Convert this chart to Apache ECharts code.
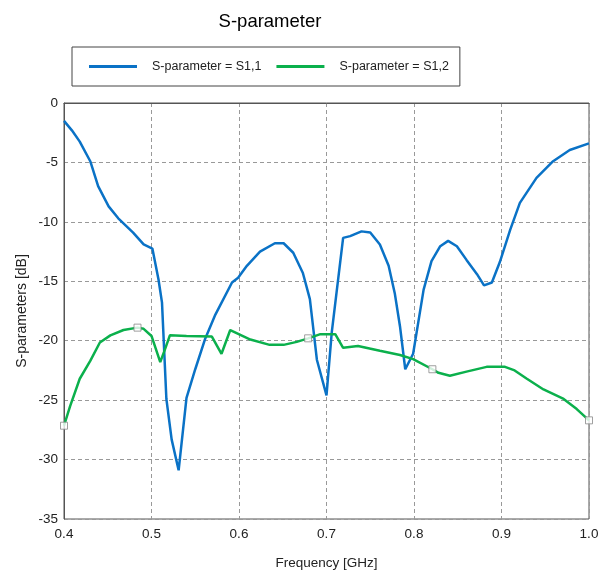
<!DOCTYPE html>
<html><head><meta charset="utf-8">
<script src="https://cdn.jsdelivr.net/npm/echarts@6/dist/echarts.min.js"></script>
<style>html,body{margin:0;padding:0;background:#fff}#c{width:610px;height:575px}</style>
</head><body><div id="c"></div>
<script>
const s11Freq = [0.400,0.409,0.418,0.430,0.439,0.451,0.462,0.479,0.491,0.501,0.508,0.512,0.517,0.523,0.531,0.540,0.550,0.561,0.573,0.592,0.599,0.609,0.624,0.641,0.651,0.662,0.673,0.681,0.689,0.700,0.706,0.719,0.727,0.740,0.750,0.761,0.771,0.778,0.784,0.790,0.799,0.811,0.820,0.830,0.839,0.849,0.860,0.872,0.880,0.889,0.898,0.910,0.921,0.940,0.959,0.978,1.000];
const s11Val = [-1.5,-2.3,-3.25,-4.9,-7.0,-8.7,-9.7,-10.9,-11.9,-12.25,-14.85,-16.8,-24.9,-28.3,-30.9,-24.8,-22.4,-19.9,-17.8,-15.1,-14.7,-13.7,-12.5,-11.8,-11.8,-12.6,-14.3,-16.5,-21.6,-24.6,-19.3,-11.35,-11.2,-10.8,-10.9,-11.9,-13.7,-16.0,-18.8,-22.4,-21.1,-15.7,-13.3,-12.05,-11.6,-12.05,-13.2,-14.4,-15.35,-15.1,-13.4,-10.65,-8.4,-6.3,-4.9,-3.95,-3.4];
const s12Freq = [0.400,0.407,0.418,0.430,0.441,0.453,0.468,0.484,0.491,0.500,0.510,0.516,0.521,0.540,0.569,0.580,0.590,0.613,0.635,0.651,0.666,0.679,0.693,0.710,0.719,0.736,0.761,0.784,0.799,0.821,0.828,0.841,0.860,0.883,0.904,0.915,0.929,0.948,0.971,0.986,1.000];
const s12Val = [-27.15,-25.5,-23.2,-21.7,-20.15,-19.55,-19.1,-18.9,-19.0,-19.6,-21.8,-20.6,-19.55,-19.6,-19.65,-21.1,-19.1,-19.9,-20.35,-20.35,-20.1,-19.8,-19.45,-19.45,-20.6,-20.45,-20.85,-21.2,-21.55,-22.4,-22.7,-22.95,-22.6,-22.2,-22.2,-22.5,-23.2,-24.1,-24.9,-25.75,-26.7];
const s12MarkerIdx = [0, 7, 21, 29, 40];
const seriesNames = ['S-parameter = S1,1', 'S-parameter = S1,2'];
const titleText = 'S-parameter';
const xName = 'Frequency [GHz]';
const yName = 'S-parameters [dB]';

const chart = echarts.init(document.getElementById('c'), null, {renderer: 'canvas'});
const font = 'Liberation Sans, Arial, sans-serif';
const zip = (xs, ys) => xs.map((x, i) => [x, ys[i]]);
chart.setOption({
  animation: false,
  backgroundColor: '#fff',
  title: {text: titleText, left: 265, top: 7, textAlign: 'center',
    textStyle: {fontFamily: font, fontSize: 18.5, fontWeight: 'normal', color: '#000'}},
  legend: {
    data: seriesNames, left: 72, top: 47, orient: 'horizontal',
    padding: [13, 11, 13, 17], itemGap: 15, itemWidth: 48, itemHeight: 3,
    icon: 'rect', borderColor: '#444', borderWidth: 1,
    textStyle: {fontFamily: font, fontSize: 12.5, color: '#222', padding: [0, 0, 0, 10]}
  },
  grid: {left: 64, right: 21, top: 103, bottom: 55, show: true, borderColor: '#555', borderWidth: 1},
  xAxis: {type: 'value', min: 0.4, max: 1.0, interval: 0.1,
    name: xName, nameLocation: 'middle', nameGap: 37, nameMoveOverlap: false,
    nameTextStyle: {fontFamily: font, fontSize: 13.5, color: '#222'},
    axisLine: {show: true, lineStyle: {color: '#555'}}, axisTick: {show: false},
    axisLabel: {fontFamily: font, fontSize: 13.5, color: '#222', margin: 8, formatter: v => v.toFixed(1)},
    splitLine: {show: true, lineStyle: {color: '#999', type: [4, 3]}}},
  yAxis: {type: 'value', min: -35, max: 0, interval: 5,
    name: yName, nameLocation: 'middle', nameGap: 35, nameMoveOverlap: false,
    nameTextStyle: {fontFamily: font, fontSize: 14, color: '#222'},
    axisLine: {show: true, lineStyle: {color: '#555'}}, axisTick: {show: false},
    axisLabel: {fontFamily: font, fontSize: 13.5, color: '#222', margin: 6},
    splitLine: {show: true, lineStyle: {color: '#999', type: [4, 3]}}},
  series: [
    {name: seriesNames[0], type: 'line', data: zip(s11Freq, s11Val), symbol: 'none',
      color: '#0a72c6', lineStyle: {width: 2.5, color: '#0a72c6'}},
    {name: seriesNames[1], type: 'line', data: zip(s12Freq, s12Val), symbol: 'none',
      color: '#0bb04c', lineStyle: {width: 2.5, color: '#0bb04c'}},
    {name: 'markers', type: 'scatter', data: s12MarkerIdx.map(i => [s12Freq[i], s12Val[i]]),
      symbol: 'rect', symbolSize: 7, z: 5,
      itemStyle: {color: '#fff', borderColor: '#888', borderWidth: 1}}
  ]
});
</script></body></html>
